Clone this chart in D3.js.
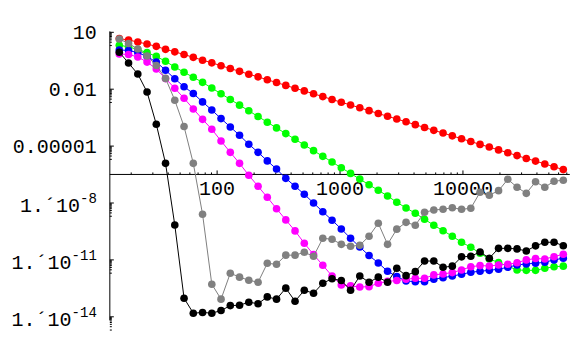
<!DOCTYPE html>
<html>
<head>
<meta charset="utf-8"/>
<script src="https://d3js.org/d3.v7.min.js"></script>
<style type="text/css">
body {
  margin: 0;
  background: #fff;
  overflow: hidden;
}
text {
  font-family: "Liberation Mono", "DejaVu Sans Mono", monospace;
  fill: #000;
}
</style>
</head>
<body>
<div id="v"></div>
<script type="text/javascript">
// sample sizes, n = 2^(k/4) for k = 16..64
var ns = [16, 19.03, 22.63, 26.91, 32, 38.05, 45.25, 53.82, 64, 76.11, 90.51, 107.6,
  128, 152.2, 181.0, 215.3, 256, 304.4, 362.0, 430.5, 512, 608.9, 724.1, 861.1,
  1024, 1218, 1448, 1722, 2048, 2436, 2896, 3444, 4096, 4871, 5793, 6889,
  8192, 9742, 11585, 13777, 16384, 19484, 23170, 27554, 32768, 38968, 46341, 55109, 65536];

// log10 of the plotted values
var redLog = [0.67, 0.59, 0.49, 0.38, 0.26, 0.10, -0.03, -0.17, -0.32, -0.47, -0.61, -0.76,
  -0.91, -1.06, -1.21, -1.35, -1.50, -1.65, -1.80, -1.95, -2.09, -2.24, -2.39, -2.54,
  -2.69, -2.83, -2.98, -3.13, -3.28, -3.43, -3.57, -3.72, -3.87, -4.02, -4.17, -4.31,
  -4.46, -4.61, -4.76, -4.91, -5.05, -5.20, -5.35, -5.50, -5.65, -5.79, -5.94, -6.09, -6.24];
var greenLog = [0.32, 0.23, 0.09, -0.07, -0.27, -0.53, -0.83, -1.11, -1.37, -1.64, -1.94, -2.24,
  -2.54, -2.84, -3.14, -3.44, -3.74, -4.04, -4.34, -4.64, -4.94, -5.24, -5.54, -5.84,
  -6.14, -6.44, -6.74, -7.04, -7.33, -7.63, -7.96, -8.26, -8.54, -8.86, -9.17, -9.46,
  -9.75, -10.07, -10.33, -10.65, -10.95, -11.14, -11.33, -11.53, -11.55, -11.55, -11.44, -11.36, -11.33];
var blueLog = [0.07, 0.04, -0.07, -0.28, -0.57, -1.00, -1.45, -1.87, -2.23, -2.67,
  -3.10, -3.55, -3.99, -4.43, -4.90, -5.33, -5.78, -6.21, -6.70, -7.12,
  -7.54, -8.00, -8.46, -8.91, -9.37, -9.86, -10.32, -10.77, -11.16, -11.60,
  -11.88, -12.11, -12.15, -12.15, -12.02, -11.94, -11.85, -11.76, -11.65, -11.60,
  -11.55, -11.49, -11.39, -11.27, -11.21, -11.18, -11.12, -11.00, -10.91];
var magentaLog = [-0.14, -0.17, -0.30, -0.57, -0.93, -1.44, -1.95, -2.48, -3.04, -3.59,
  -4.11, -4.73, -5.33, -5.91, -6.54, -7.12, -7.70, -8.30, -8.89, -9.47,
  -10.12, -10.72, -11.28, -11.85, -12.32, -12.37, -12.43, -12.41, -12.23, -12.13,
  -12.09, -12.02, -11.97, -11.97, -11.79, -11.74, -11.67, -11.53, -11.36, -11.30,
  -11.32, -11.27, -11.23, -11.15, -11.00, -10.93, -10.95, -10.83, -10.70];
var grayLog = [0.65, 0.41, 0.12, -0.25, -0.75, -1.43, -2.58, -3.97, -5.91, -8.59,
  -12.28, -13.07, -11.70, -11.91, -12.07, -12.18, -11.18, -11.23, -10.75, -10.75,
  -10.60, -10.81, -9.86, -9.91, -10.18, -10.28, -10.23, -9.75, -9.07, -10.18,
  -9.38, -9.02, -9.17, -8.49, -8.37, -8.33, -8.25, -8.33, -8.28, -7.43,
  -7.59, -7.35, -6.75, -7.17, -7.49, -6.88, -7.17, -6.85, -6.80];
var blackLog = [-0.05, -0.62, -1.20, -2.15, -3.85, -5.91, -9.16, -13.02, -13.81, -13.77,
  -13.81, -13.67, -13.41, -13.39, -13.23, -13.31, -12.95, -13.07, -12.49, -13.18,
  -12.60, -12.76, -12.23, -11.99, -12.09, -12.60, -11.85, -12.18, -11.91, -12.18,
  -11.44, -11.83, -11.62, -11.06, -11.06, -11.39, -11.33, -10.84, -10.81, -10.58,
  -10.91, -10.39, -10.39, -10.42, -10.53, -10.26, -10.07, -10.07, -10.25];

var seriesLogs = [redLog, greenLog, blueLog, magentaLog, grayLog, blackLog];
var seriesColors = ["#ff0000", "#00ff00", "#0000ff", "#ff00ff", "#808080", "#000000"];

var xTicks = [100, 1000, 10000];
var xTickLabels = ["100", "1000", "10000"];
var yTicks = [10, 1e-2, 1e-5, 1e-8, 1e-11, 1e-14];
var yTickMain = ["10", "0.01", "0.00001", "1.\u00b410", "1.\u00b410", "1.\u00b410"];
var yTickExp = ["", "", "", "-8", "-11", "-14"];

var width = 576, height = 356;
var svg = d3.select("#v").append("svg")
  .attr("width", width)
  .attr("height", height);

var x = d3.scaleLog().domain([16, 65536]).range([119.3, 563.3]);
var y = d3.scaleLog().domain([10, 1e-14]).range([32.3, 316.8]);

// where the axes sit and how far they run
var xAxisFrom = 13.4, xAxisTo = 74000, xAxisAt = 3.2e-7;
var yAxisFrom = 11.2, yAxisTo = 6.5e-15;
var x0 = x(xAxisFrom), y0 = y(xAxisAt);

// minor ticks: 2..9 times each decade
var xMinor = [];
[10, 100, 1000, 10000].forEach(function(d) {
  for (var j = 2; j <= 9; j++) {
    var v = d * j;
    if (v > xAxisFrom && v < xAxisTo) xMinor.push(v);
  }
});
var yMinor = [];
yTicks.forEach(function(d) {
  for (var j = 2; j <= 9; j++) yMinor.push(d / 10 * j);
});

var axes = svg.append("g").attr("stroke", "#000").attr("stroke-width", 1);

axes.append("line")
  .attr("x1", x0).attr("x2", x(xAxisTo))
  .attr("y1", y0).attr("y2", y0);
axes.append("line")
  .attr("x1", x0).attr("x2", x0)
  .attr("y1", y(yAxisFrom)).attr("y2", y(yAxisTo));

axes.selectAll(".xmaj").data(xTicks).enter().append("line")
  .attr("x1", function(d) { return x(d); }).attr("x2", function(d) { return x(d); })
  .attr("y1", y0).attr("y2", y0 - 4);
axes.selectAll(".xmin").data(xMinor).enter().append("line")
  .attr("x1", function(d) { return x(d); }).attr("x2", function(d) { return x(d); })
  .attr("y1", y0).attr("y2", y0 - 2);
axes.selectAll(".ymaj").data(yTicks).enter().append("line")
  .attr("x1", x0).attr("x2", x0 + 4)
  .attr("y1", function(d) { return y(d); }).attr("y2", function(d) { return y(d); });
axes.selectAll(".ymin").data(yMinor).enter().append("line")
  .attr("x1", x0).attr("x2", x0 + 2)
  .attr("y1", function(d) { return y(d); }).attr("y2", function(d) { return y(d); });

svg.selectAll(".xlab").data(xTicks).enter().append("text")
  .attr("class", "xlab")
  .attr("x", function(d) { return x(d); })
  .attr("y", y0 + 21)
  .attr("text-anchor", "middle")
  .style("font-size", "20px")
  .text(function(d, i) { return xTickLabels[i]; });

var ylab = svg.selectAll(".ylab").data(yTicks).enter().append("text")
  .attr("class", "ylab")
  .attr("x", x0 - 13)
  .attr("y", function(d, i) { return y(d) + (yTickExp[i] ? 9 : 6.5); })
  .attr("text-anchor", "end")
  .style("font-size", "20px");
ylab.append("tspan").text(function(d, i) { return yTickMain[i]; });
ylab.append("tspan")
  .attr("dy", -9)
  .style("font-size", "14px")
  .text(function(d, i) { return yTickExp[i]; });

var line = d3.line()
  .x(function(d, i) { return x(ns[i]); })
  .y(function(d) { return y(Math.pow(10, d)); });

seriesLogs.forEach(function(logs, s) {
  var g = svg.append("g");
  g.append("path")
    .attr("d", line(logs))
    .attr("fill", "none")
    .attr("stroke", seriesColors[s])
    .attr("stroke-width", 1);
  g.selectAll("circle").data(logs).enter().append("circle")
    .attr("cx", function(d, i) { return x(ns[i]); })
    .attr("cy", function(d) { return y(Math.pow(10, d)); })
    .attr("r", 3.8)
    .attr("fill", seriesColors[s]);
});
</script>
</body>
</html>
